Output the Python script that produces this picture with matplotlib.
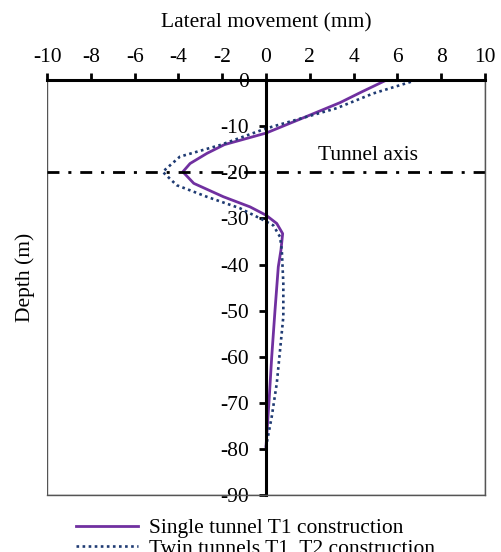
import numpy as np
import matplotlib.pyplot as plt
from matplotlib.patches import Rectangle

plt.rcParams['font.family'] = ['Liberation Serif', 'DejaVu Serif']
plt.rcParams['font.size'] = 15.5
plt.rcParams['axes.unicode_minus'] = False

# lateral movement profiles (mm) against depth (m)
depth_single = [0, -2.5, -4.9, -8, -11.5, -14, -15.9, -18.1, -19.9, -22.4, -25.3, -27.5,
                -29.3, -31.1, -33.3, -36.9, -40.5, -49.9, -60, -69.4, -79.5]
move_single = [5.5, 4.4, 3.38, 1.8, 0.0, -1.9, -2.7, -3.47, -3.8, -3.3, -1.95, -0.73,
               0.0, 0.49, 0.76, 0.68, 0.56, 0.41, 0.26, 0.14, 0.0]

depth_twin = [0, -2.9, -6.1, -10.5, -14.1, -16.6, -19.9, -22.8, -25.3, -27.8, -30,
              -31.5, -34, -36.9, -44.1, -51.3, -58.6, -65.8, -73, -79.5]
move_twin = [6.88, 4.9, 3.23, 0.0, -2.1, -3.93, -4.72, -4.08, -2.71, -1.19, -0.27,
             0.33, 0.64, 0.72, 0.79, 0.79, 0.64, 0.49, 0.26, 0.0]

tunnel_axis_depth = -20
x_ticks = np.arange(-10, 11, 2)
y_ticks = np.arange(0, -91, -10)

fig = plt.figure(figsize=(5.01, 5.52), dpi=100)
ax = fig.add_axes([0.094, 0.103, 0.874, 0.752])

ax.plot(move_single, depth_single, color='#7030A0', lw=2.0, solid_joinstyle='round',
        label='Single tunnel T1 construction')
ax.plot(move_twin, depth_twin, color='#1F3B73', lw=1.9, linestyle=(0, (1, 1.3)),
        label='Twin tunnels T1, T2 construction')
ax.axhline(tunnel_axis_depth, color='black', lw=2.0, linestyle=(0, (4.3, 3.2, 1.1, 3.2)))
ax.text(4.66, -16.3, 'Tunnel axis', ha='center', va='center')

ax.set_xlim(-10, 10)
ax.set_ylim(-90, 0)
ax.set_xticks(x_ticks)
ax.set_yticks(y_ticks)

# x axis on top, y axis through zero
ax.xaxis.tick_top()
ax.xaxis.set_label_position('top')
ax.spines['left'].set_position(('data', 0))
ax.spines['left'].set_linewidth(2.2)
ax.spines['top'].set_linewidth(2.2)
ax.spines['right'].set_linewidth(1.0)
ax.spines['right'].set_color('#555555')
ax.spines['bottom'].set_linewidth(1.0)
ax.spines['bottom'].set_color('#555555')
ax.add_patch(Rectangle((0, 0), 1, 1, transform=ax.transAxes, fill=False,
                       edgecolor='#555555', lw=1.0, zorder=0))
ax.tick_params(axis='x', direction='out', length=5, width=2, pad=4.5)
ax.tick_params(axis='y', direction='out', length=5, width=2, pad=7)

ax.set_xlabel('Lateral movement (mm)', labelpad=14.5)
fig.text(0.05, 0.498, 'Depth (m)', rotation=90, ha='center', va='center')

fig.legend(loc='upper left', bbox_to_anchor=(0.13, 0.081), frameon=False,
           handlelength=2.9, labelspacing=0.0, borderpad=0, handletextpad=0.5)

fig.savefig('out.png', dpi=100)
